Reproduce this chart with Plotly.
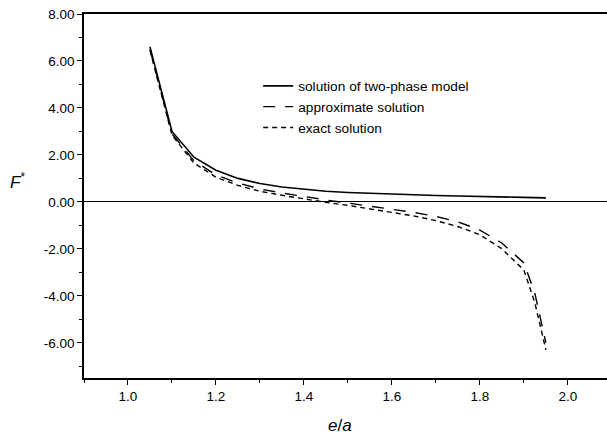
import plotly.graph_objects as go

x_vals = [1.05, 1.1, 1.15, 1.2, 1.25, 1.3, 1.35, 1.4, 1.45, 1.5, 1.55, 1.6, 1.65, 1.7, 1.75, 1.8, 1.85, 1.9, 1.925, 1.95]
two_phase = [6.6, 3.0, 1.9, 1.35, 1.0, 0.78, 0.63, 0.53, 0.45, 0.40, 0.36, 0.32, 0.29, 0.27, 0.25, 0.22, 0.20, 0.19, 0.18, 0.17]
approx = [6.5, 2.9, 1.75, 1.15, 0.8, 0.55, 0.38, 0.22, 0.08, -0.05, -0.18, -0.3, -0.45, -0.62, -0.85, -1.2, -1.75, -2.6, -3.9, -6.0]
exact = [6.45, 2.85, 1.65, 1.05, 0.7, 0.45, 0.28, 0.12, -0.02, -0.15, -0.3, -0.45, -0.6, -0.8, -1.05, -1.4, -2.0, -2.9, -4.3, -6.3]

y_ticks = [-6, -4, -2, 0, 2, 4, 6, 8]
y_labels = ["-6.00", "-4.00", "-2.00", "0.00", "2.00", "4.00", "6.00", "8.00"]
x_ticks = [1.0, 1.2, 1.4, 1.6, 1.8, 2.0]
x_labels = ["1.0", "1.2", "1.4", "1.6", "1.8", "2.0"]

fig = go.Figure()
fig.add_trace(go.Scatter(x=x_vals, y=two_phase, mode="lines", name="solution of two-phase model",
                         line=dict(color="black", width=1.6)))
fig.add_trace(go.Scatter(x=x_vals, y=approx, mode="lines", name="approximate solution",
                         line=dict(color="black", width=1.4, dash="12px,10px")))
fig.add_trace(go.Scatter(x=x_vals, y=exact, mode="lines", name="exact solution",
                         line=dict(color="black", width=1.4, dash="5px,4px")))

fig.update_layout(
    width=607, height=443,
    margin=dict(l=84, r=0, t=14, b=65, autoexpand=False),
    paper_bgcolor="white", plot_bgcolor="white",
    font=dict(family="Liberation Sans, Arial", color="black", size=13.5),
    showlegend=True,
    legend=dict(x=0.333, y=0.845, xanchor="left", yanchor="top",
                bgcolor="rgba(0,0,0,0)", font=dict(size=13.7), tracegroupgap=0, itemwidth=30),
    xaxis=dict(range=[0.9, 2.089], tickvals=x_ticks, ticktext=x_labels, automargin=False,
               showline=True, linecolor="black", linewidth=1.5, mirror=True,
               ticks="outside", ticklen=5, tickcolor="black",
               minor=dict(dtick=0.1, ticks="outside", ticklen=3, tickcolor="black"),
               showgrid=False, zeroline=False),
    yaxis=dict(range=[-7.5, 8.0], tickvals=y_ticks, ticktext=y_labels, automargin=False,
               showline=True, linecolor="black", linewidth=1.5,
               ticks="outside", ticklen=5, tickcolor="black",
               minor=dict(dtick=1, ticks="outside", ticklen=3, tickcolor="black"),
               showgrid=False, zeroline=True, zerolinecolor="black", zerolinewidth=1.2),
    annotations=[
        dict(text="<i>e</i>/<i>a</i>", xref="paper", yref="paper", x=0.49, y=-0.13,
             xanchor="center", yanchor="middle", showarrow=False, font=dict(size=17)),
        dict(text="<i>F</i><sup>*</sup>", xref="paper", yref="paper", x=-0.128, y=0.541,
             xanchor="center", yanchor="middle", showarrow=False, font=dict(size=17)),
    ],
)

fig.write_html("out.html", config={"displayModeBar": False},
               post_script="document.body.style.margin='0px';document.body.style.overflow='hidden';")
